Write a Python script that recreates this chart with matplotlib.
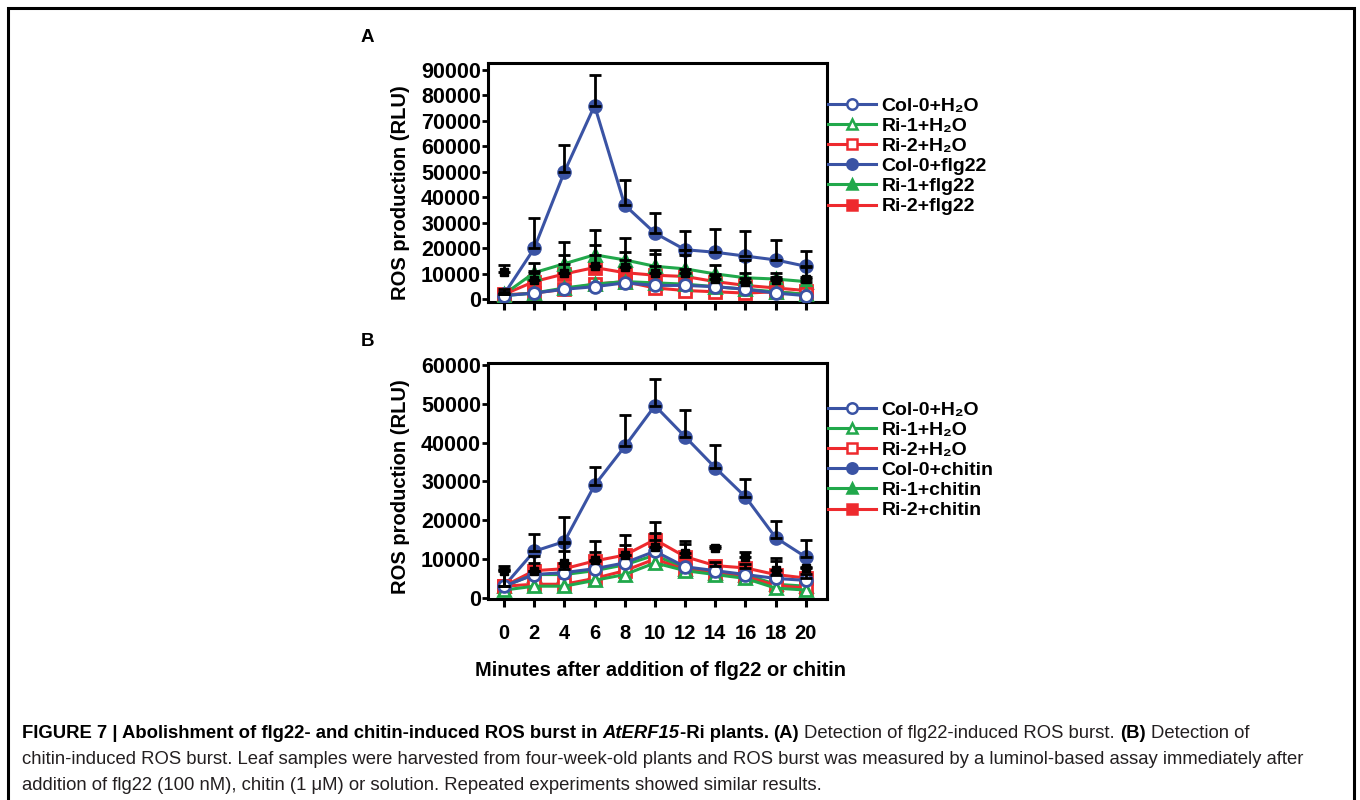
import matplotlib
matplotlib.use('Agg')
import matplotlib.pyplot as plt
from matplotlib.transforms import IdentityTransform
from matplotlib.lines import Line2D

plt.rcParams['font.family'] = ['Liberation Sans', 'DejaVu Sans']
plt.rcParams['font.weight'] = 'bold'
plt.rcParams['axes.labelweight'] = 'bold'

minutes = [0, 2, 4, 6, 8, 10, 12, 14, 16, 18, 20]

# panel A: flg22
a_col_h2o = [1500, 2500, 4000, 5000, 6500, 5500, 5500, 5000, 4000, 2500, 1500]
a_ri1_h2o = [1500, 2500, 4500, 6000, 7000, 6500, 6000, 5000, 4000, 3000, 2000]
a_ri2_h2o = [1800, 2500, 4000, 6000, 7000, 4500, 3500, 3000, 2500, 3000, 2000]
a_col_trt = [2000, 20000, 50000, 76000, 37000, 26000, 19500, 18500, 17000, 15500, 13000]
a_ri1_trt = [2000, 10500, 14000, 17500, 15500, 13000, 12000, 10000, 8500, 8000, 7000]
a_ri2_trt = [2000, 7000, 10000, 12500, 10500, 9500, 9000, 7000, 5500, 4500, 3500]
a_col_sd = [1000, 12000, 10500, 12000, 10000, 8000, 7500, 9000, 10000, 8000, 6000]
a_ri1_sd = [2000, 3900, 8600, 9700, 8400, 6300, 7300, 3400, 6900, 2200, 5800]
a_blk = [10800, 7600, 10400, 13000, 12800, 10200, 10200, 8200, 6900, 7600, 8000]
a_blk_sd = [2900, 3400, 7000, 8300, 5900, 7800, 7200, 1300, 3300, 1300, 900]

# panel B: chitin
b_col_h2o = [3000, 6000, 6500, 7500, 9000, 12000, 8000, 7000, 6000, 5000, 4500]
b_ri1_h2o = [2000, 3000, 3000, 4500, 6000, 9000, 7000, 6000, 5000, 2500, 2000]
b_ri2_h2o = [3000, 3500, 3500, 5000, 7000, 10000, 7200, 6500, 5500, 3200, 2500]
b_col_trt = [3000, 12000, 14500, 29000, 39000, 49500, 41500, 33500, 26000, 15500, 10500]
b_ri1_trt = [3000, 6000, 6000, 7000, 8500, 11000, 7500, 6500, 6000, 3500, 3000]
b_ri2_trt = [3000, 7000, 7500, 9500, 11000, 15000, 10600, 8300, 7700, 6000, 5100]
b_col_sd = [4500, 4400, 6300, 4800, 8000, 7000, 6800, 5800, 4600, 4200, 4400]
b_ri2_sd = [4200, 1900, 4500, 2400, 2600, 1600, 3200, 1000, 1000, 3400, 1000]
b_blk = [6900, 6900, 8900, 9800, 11000, 13200, 11500, 12800, 10600, 7200, 7800]
b_blk_sd = [1200, 3800, 5100, 4800, 5200, 6400, 3100, 500, 1300, 3000, 200]

labels_a = ['Col-0+H\u2082O', 'Ri-1+H\u2082O', 'Ri-2+H\u2082O', 'Col-0+flg22', 'Ri-1+flg22', 'Ri-2+flg22']
labels_b = ['Col-0+H\u2082O', 'Ri-1+H\u2082O', 'Ri-2+H\u2082O', 'Col-0+chitin', 'Ri-1+chitin', 'Ri-2+chitin']

BLUE = '#3a53a4'
GREEN = '#21a84b'
RED = '#ee2a2e'
styles = [(BLUE, 'o', False), (GREEN, '^', False), (RED, 's', False),
          (BLUE, 'o', True), (GREEN, '^', True), (RED, 's', True)]

W, H = 1360, 800
fig = plt.figure(figsize=(W / 100, H / 100), dpi=100)


def px_axes(l, t, r, b):
    return fig.add_axes([l / W, 1 - b / H, (r - l) / W, (b - t) / H])


def draw_panel(ax, series, labels, errs, blk, blk_sd, ylim, ytop, legend_top):
    for i in [5, 4, 3, 2, 1, 0]:
        c, m, filled = styles[i]
        ax.plot(minutes, series[i], color=c, lw=2.2, marker=m, ms=8.5,
                mfc=c if filled else 'white', mec=c, mew=2, zorder=3 + (5 - i) * 0.1)
    for sd_vals, base in errs:
        ax.errorbar(minutes, base, yerr=[[0] * len(sd_vals), sd_vals], fmt='none',
                    ecolor='black', elinewidth=2, capsize=4, capthick=2, zorder=5)
    ax.errorbar(minutes, blk, yerr=[[0] * len(blk_sd), blk_sd], fmt='s', color='black',
                ms=6, elinewidth=2, capsize=4, capthick=2, zorder=6)
    ax.set_xlim(-1.06, 21.4)
    ax.set_ylim(*ylim)
    ax.set_yticks(range(0, ytop + 1, 10000))
    ax.set_xticks(minutes)
    for s in ax.spines.values():
        s.set_linewidth(2.2)
    ax.tick_params(axis='y', length=4, width=2, pad=1, labelsize=15.5)
    ax.tick_params(axis='x', length=6, width=2.2, pad=12, labelsize=14.5)
    handles = []
    for i in range(6):
        c, m, filled = styles[i]
        handles.append(Line2D([], [], color=c, lw=2.2, marker=m, ms=7.5,
                              mfc=c if filled else 'white', mec=c, mew=1.8))
    ax.legend(handles, labels, loc='upper left', frameon=False, fontsize=14,
              bbox_to_anchor=(828 / W, 1 - legend_top / H), bbox_transform=fig.transFigure,
              borderpad=0, borderaxespad=0, labelspacing=0.13, handlelength=2.45,
              handletextpad=0.3, numpoints=1)
    ax.set_ylabel('ROS production (RLU)', fontsize=14.5, va='center')


ax_a = px_axes(488, 63, 827, 302)
draw_panel(ax_a, [a_col_h2o, a_ri1_h2o, a_ri2_h2o, a_col_trt, a_ri1_trt, a_ri2_trt], labels_a,
           [(a_col_sd, a_col_trt), (a_ri1_sd, a_ri1_trt)], a_blk, a_blk_sd,
           (-1000, 92700), 90000, 97)
ax_a.set_xticklabels([])
ax_a.yaxis.set_label_coords((400 - 488) / 339, (302 - 193) / 239)

ax_b = px_axes(488, 363, 827, 599)
draw_panel(ax_b, [b_col_h2o, b_ri1_h2o, b_ri2_h2o, b_col_trt, b_ri1_trt, b_ri2_trt], labels_b,
           [(b_col_sd, b_col_trt), (b_ri2_sd, b_ri2_trt)], b_blk, b_blk_sd,
           (-300, 60500), 60000, 401)
ax_b.yaxis.set_label_coords((400 - 488) / 339, (599 - 487) / 236)
ax_b.set_xlabel('Minutes after addition of flg22 or chitin', fontsize=14.5, va='center')
ax_b.xaxis.set_label_coords((660 - 488) / 339, (599 - 670) / 236)

fig.text(367 / W, 1 - 37 / H, 'A', fontsize=13.5, ha='center', va='center')
fig.text(367 / W, 1 - 342 / H, 'B', fontsize=13.5, ha='center', va='center')

# outer frame
fig.add_artist(plt.Rectangle((8 / W, -0.05), (1354 - 8) / W, 1.05 - 8 / H, fill=False,
                             lw=2.2, ec='black', transform=fig.transFigure))

# caption
cap1 = [('FIGURE 7 | Abolishment of flg22- and chitin-induced ROS burst in', 'bold', 'normal', True),
        ('AtERF15', 'bold', 'italic', False),
        ('-Ri plants.', 'bold', 'normal', True),
        ('(A)', 'bold', 'normal', True),
        ('Detection of flg22-induced ROS burst.', 'normal', 'normal', True),
        ('(B)', 'bold', 'normal', True),
        ('Detection of', 'normal', 'normal', False)]
cap2 = [('chitin-induced ROS burst. Leaf samples were harvested from four-week-old plants and ROS burst '
         'was measured by a luminol-based assay immediately after', 'normal', 'normal', False)]
cap3 = [('addition of flg22 (100 nM), chitin (1 \u03bcM) or solution. Repeated experiments showed '
         'similar results.', 'normal', 'normal', False)]

renderer = fig.canvas.get_renderer()


def text_width(s, size, weight, style):
    t = fig.text(0, 0, s, fontsize=size, fontweight=weight, fontstyle=style)
    w = t.get_window_extent(renderer).width
    t.remove()
    return w


def rich_line(parts, x, y_top, size, draw=True):
    for s, weight, style, gap in parts:
        color = 'black' if weight == 'bold' else '#231f20'
        if draw:
            fig.text(x, H - y_top, s, fontsize=size, fontweight=weight, fontstyle=style,
                     color=color, transform=IdentityTransform(), va='baseline')
        x += text_width(s, size, weight, style)
        if gap:
            x += text_width('a a', size, weight, style) - text_width('aa', size, weight, style)
    return x


base = 12.0
end = rich_line(cap1, 22, 0, base, draw=False)
cap_size = base * (1252 - 22) / (end - 22)
rich_line(cap1, 22, 738, cap_size)
rich_line(cap2, 22, 764, cap_size)
rich_line(cap3, 22, 790, cap_size)

fig.savefig('out.png', dpi=100)
